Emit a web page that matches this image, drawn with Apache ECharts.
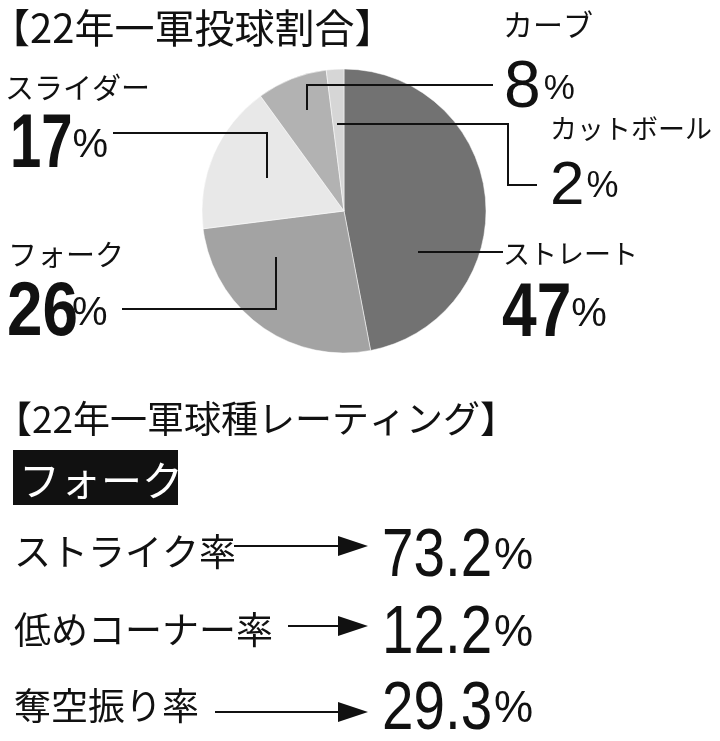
<!DOCTYPE html>
<html>
<head>
<meta charset="utf-8">
<script src="https://cdn.jsdelivr.net/npm/echarts@6/dist/echarts.min.js"></script>
<style>
  html, body { margin: 0; padding: 0; background: #fff; }
  #app { width: 720px; height: 741px; }
</style>
</head>
<body>
<div id="app"></div>
<script>
// pie data: 22年一軍投球割合
var pitchNames = ["ストレート", "フォーク", "スライダー", "カーブ", "カットボール"];
var pitchShares = [47, 26, 17, 8, 2];
var sliceColors = ["#727272", "#a3a3a3", "#e8e8e8", "#b2b2b2", "#d6d6d6"];

// rating block: 22年一軍球種レーティング
var ratingPitch = "フォーク";
var ratingNames = ["ストライク率", "低めコーナー率", "奪空振り率"];
var ratingValues = [73.2, 12.2, 29.3];

var JP = "'Noto Sans CJK JP', sans-serif";
var NUM = "'Liberation Sans', Arial, sans-serif";
var INK = "#111";

var ctx = document.createElement("canvas").getContext("2d");
function textWidth(t, font) {
  ctx.font = font;
  return ctx.measureText(t).width;
}

// where each pie label sits and how its leader line runs
// nx,ny: name; vx,vy: number (middle); size/bold/sx: number font; pct: % size; gap: space before %
var labelSpots = [
  { nx: 503, ny: 254, ns: 27, vx: 502, vy: 315, size: 76, bold: true, sx: 0.82, pct: 40, gap: 0,
    line: [[418, 252], [503, 252]] },
  { nx: 8, ny: 255, ns: 29, vx: 7, vy: 314, size: 76, bold: true, sx: 0.84, pct: 40, gap: -6,
    line: [[276, 257], [276, 309], [122, 309]] },
  { nx: 5, ny: 88, ns: 29, vx: 10, vy: 146, size: 76, bold: true, sx: 0.74, pct: 40, gap: 0,
    line: [[267, 178], [267, 133], [113, 133]] },
  { nx: 503, ny: 25, ns: 30, vx: 504, vy: 89, size: 66, bold: false, sx: 1, pct: 35, gap: 3,
    line: [[307, 110], [307, 85], [493, 85]] },
  { nx: 550, ny: 129, ns: 27, vx: 550, vy: 187, size: 62, bold: false, sx: 1, pct: 36, gap: 2,
    line: [[337, 124], [508, 124], [508, 185], [537, 185]] }
];

var graphics = [];

pitchNames.forEach(function (name, i) {
  var s = labelSpots[i];
  var numText = String(pitchShares[i]);
  var numFont = (s.bold ? "bold " : "") + s.size + "px " + NUM;
  graphics.push({
    type: "polyline", z: 100, shape: { points: s.line },
    style: { stroke: INK, lineWidth: 2, fill: null }
  });
  graphics.push({
    type: "text", z: 100, x: s.nx, y: s.ny,
    style: { text: name, fill: INK, font: s.ns + "px " + JP, verticalAlign: "middle" }
  });
  graphics.push({
    type: "text", z: 100, x: s.vx, y: s.vy, scaleX: s.sx,
    style: { text: numText, fill: INK, font: numFont, verticalAlign: "middle" }
  });
  graphics.push({
    type: "text", z: 100, x: s.vx + textWidth(numText, numFont) * s.sx + s.gap, y: s.vy,
    style: { text: "%", fill: INK, font: s.pct + "px " + NUM, verticalAlign: "middle" }
  });
});

// rating rows layout
var rowLabelY = [552, 630, 706];
var rowArrowY = [546, 626, 712];
var rowArrowX = [234, 288, 215];
var rowValueY = [557, 634, 710];
var valueFont = "69px " + NUM;
var valueScale = 0.82;

graphics.push(
  { type: "rect", shape: { x: 13, y: 450, width: 165, height: 55 }, style: { fill: INK } },
  {
    type: "text", x: 19, y: 480,
    style: { text: ratingPitch, fill: "#fff", font: "41px " + JP, verticalAlign: "middle" }
  }
);
ratingNames.forEach(function (name, i) {
  var ay = rowArrowY[i];
  var v = ratingValues[i].toFixed(1);
  graphics.push({
    type: "text", x: 14, y: rowLabelY[i],
    style: { text: name, fill: INK, font: "37px " + JP, verticalAlign: "middle" }
  });
  graphics.push({
    type: "line", shape: { x1: rowArrowX[i], y1: ay, x2: 342, y2: ay },
    style: { stroke: INK, lineWidth: 2 }
  });
  graphics.push({
    type: "polygon", shape: { points: [[338, ay - 10], [368, ay], [338, ay + 10]] },
    style: { fill: INK }
  });
  graphics.push({
    type: "text", x: 382, y: rowValueY[i], scaleX: valueScale,
    style: { text: v, fill: INK, font: valueFont, verticalAlign: "middle" }
  });
  graphics.push({
    type: "text", x: 382 + textWidth(v, valueFont) * valueScale + 2, y: rowValueY[i],
    style: { text: "%", fill: INK, font: "44px " + NUM, verticalAlign: "middle" }
  });
});

var myChart = echarts.init(document.getElementById("app"));
var option = {
  animation: false,
  title: [
    {
      text: "【22年一軍投球割合】", left: -10, top: 8, padding: 0,
      textStyle: { fontFamily: JP, fontSize: 40, fontWeight: "normal", color: INK, lineHeight: 40 }
    },
    {
      text: "【22年一軍球種レーティング】", left: -5, top: 400, padding: 0,
      textStyle: { fontFamily: JP, fontSize: 37, fontWeight: "normal", color: INK, lineHeight: 37 }
    }
  ],
  series: [
    {
      type: "pie",
      center: [344, 211],
      radius: 142,
      startAngle: 90,
      clockwise: true,
      data: pitchNames.map(function (name, i) {
        return { name: name, value: pitchShares[i], itemStyle: { color: sliceColors[i] } };
      }),
      itemStyle: { borderColor: "rgba(255,255,255,0.5)", borderWidth: 1 },
      label: { show: false },
      labelLine: { show: false },
      emphasis: { disabled: true }
    }
  ],
  graphic: graphics
};
myChart.setOption(option);
</script>
</body>
</html>
